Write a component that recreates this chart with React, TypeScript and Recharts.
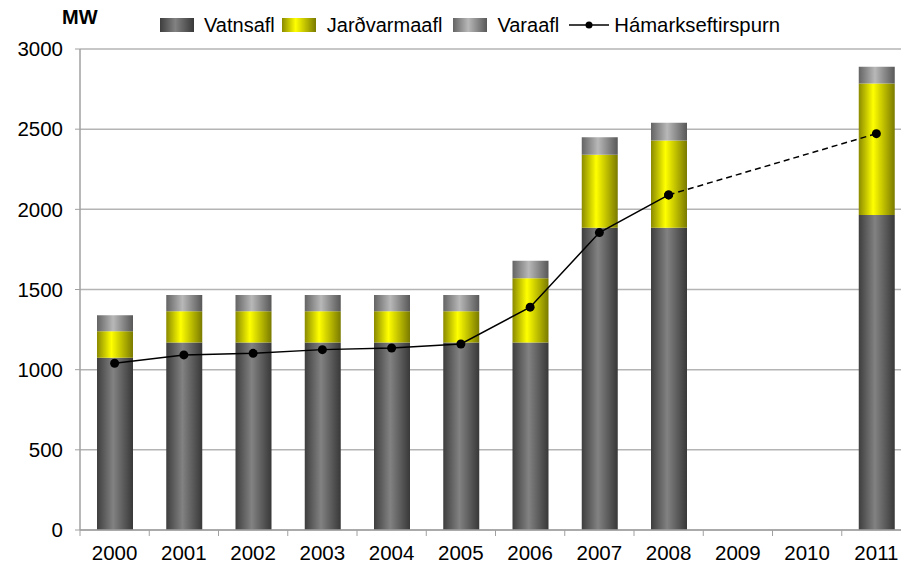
import { ComposedChart, Bar, Line, XAxis, YAxis, CartesianGrid } from 'recharts';

const years = ['2000', '2001', '2002', '2003', '2004', '2005', '2006', '2007', '2008', '2009', '2010', '2011'];
const vatnsafl = [1075, 1170, 1170, 1170, 1170, 1170, 1170, 1885, 1885, null, null, 1965];
const jardvarmaafl = [165, 195, 195, 195, 195, 195, 400, 455, 545, null, null, 820];
const varaafl = [100, 100, 100, 100, 100, 100, 110, 110, 110, null, null, 105];
const hamarkseftirspurn = [1040, 1092, 1102, 1125, 1135, 1160, 1390, 1855, 2090, null, null, null];
const hamarkSpa = [null, null, null, null, null, null, null, null, 2090, null, null, 2472];
const yTicks = [0, 500, 1000, 1500, 2000, 2500, 3000];

const data = years.map((year, i) => ({
  year,
  vatnsafl: vatnsafl[i],
  jardvarmaafl: jardvarmaafl[i],
  varaafl: varaafl[i],
  hamark: hamarkseftirspurn[i],
  spa: hamarkSpa[i],
}));

const FONT = '"Liberation Sans", Arial, sans-serif';
const CHART_W = 911;
const PLOT_LEFT = 80;
const HALF_BAND = (CHART_W - PLOT_LEFT) / years.length / 2;

// Excel style: tick marks sit between categories, labels at the centre
function YearTick({ x, y, payload }: any) {
  return (
    <g>
      <line x1={x - HALF_BAND} x2={x - HALF_BAND} y1={y - 8} y2={y - 2} stroke="#a0a0a0" />
      <text x={x} y={y + 22} textAnchor="middle" fontSize={20.5} fill="#000" fontFamily={FONT}>
        {payload.value}
      </text>
    </g>
  );
}

function Swatch({ id }: { id: string }) {
  return (
    <svg width={34} height={14} style={{ display: 'block' }}>
      <rect width={34} height={14} fill={`url(#${id})`} />
    </svg>
  );
}

function Gradients() {
  return (
    <defs>
      <linearGradient id="gVatn" x1="0" y1="0" x2="1" y2="0">
        <stop offset="0%" stopColor="#3e3e3e" />
        <stop offset="45%" stopColor="#828282" />
        <stop offset="100%" stopColor="#383838" />
      </linearGradient>
      <linearGradient id="gJard" x1="0" y1="0" x2="1" y2="0">
        <stop offset="0%" stopColor="#8a8a00" />
        <stop offset="40%" stopColor="#ffff00" />
        <stop offset="100%" stopColor="#7a7a00" />
      </linearGradient>
      <linearGradient id="gVara" x1="0" y1="0" x2="1" y2="0">
        <stop offset="0%" stopColor="#646464" />
        <stop offset="45%" stopColor="#b8b8b8" />
        <stop offset="100%" stopColor="#585858" />
      </linearGradient>
    </defs>
  );
}

export default function App() {
  const legendText = { fontSize: 20, color: '#000', lineHeight: '20px' };
  return (
    <div
      style={{
        position: 'absolute', left: 0, top: 0, width: 901, height: 571,
        overflow: 'hidden', background: '#fff', fontFamily: FONT,
      }}
    >
      <div style={{ position: 'absolute', left: 62, top: 6, fontSize: 20, fontWeight: 'bold' }}>MW</div>
      <div style={{ position: 'absolute', left: 160, top: 15, display: 'flex', alignItems: 'center' }}>
        <svg width={0} height={0} style={{ position: 'absolute' }}>
          <Gradients />
        </svg>
        <Swatch id="gVatn" />
        <span style={{ ...legendText, marginLeft: 10 }}>Vatnsafl</span>
        <span style={{ marginLeft: 7 }}><Swatch id="gJard" /></span>
        <span style={{ ...legendText, marginLeft: 11 }}>Jarðvarmaafl</span>
        <span style={{ marginLeft: 11 }}><Swatch id="gVara" /></span>
        <span style={{ ...legendText, marginLeft: 10 }}>Varaafl</span>
        <svg width={40} height={14} style={{ marginLeft: 10 }}>
          <line x1={0} x2={40} y1={7} y2={7} stroke="#000" strokeWidth={1.5} />
          <circle cx={20} cy={7} r={3.5} fill="#000" />
        </svg>
        <span style={{ ...legendText, marginLeft: 5, fontSize: 20.3 }}>Hámarkseftirspurn</span>
      </div>
      <ComposedChart
        width={CHART_W}
        height={571}
        data={data}
        margin={{ top: 49, right: 0, bottom: 0, left: 0 }}
        barSize={36}
      >
        <Gradients />
        <CartesianGrid vertical={false} stroke="#b4b4b4" strokeWidth={1.5} />
        <XAxis
          dataKey="year"
          height={41}
          axisLine={{ stroke: '#a0a0a0', strokeWidth: 1.5 }}
          tickLine={false}
          tick={<YearTick />}
          interval={0}
        />
        <YAxis
          width={PLOT_LEFT}
          domain={[0, 3000]}
          ticks={yTicks}
          axisLine={{ stroke: '#a0a0a0', strokeWidth: 1.5 }}
          tickLine={{ stroke: '#a0a0a0' }}
          tickSize={5}
          tickMargin={12}
          tick={{ fill: '#000', fontSize: 20.5, fontFamily: FONT }}
        />
        <Bar dataKey="vatnsafl" stackId="a" fill="url(#gVatn)" isAnimationActive={false} />
        <Bar dataKey="jardvarmaafl" stackId="a" fill="url(#gJard)" isAnimationActive={false} />
        <Bar dataKey="varaafl" stackId="a" fill="url(#gVara)" isAnimationActive={false} />
        <Line
          dataKey="spa"
          stroke="#000"
          strokeWidth={1.5}
          strokeDasharray="6 4"
          connectNulls
          dot={{ r: 4.5, fill: '#000', stroke: '#000', strokeWidth: 0 }}
          isAnimationActive={false}
        />
        <Line
          dataKey="hamark"
          stroke="#000"
          strokeWidth={1.5}
          dot={{ r: 4.5, fill: '#000', stroke: '#000', strokeWidth: 0 }}
          isAnimationActive={false}
        />
      </ComposedChart>
    </div>
  );
}
